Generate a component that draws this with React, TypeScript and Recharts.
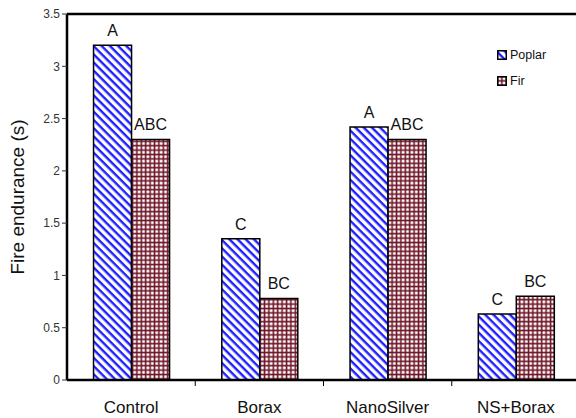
import React from "react";
import {
  BarChart,
  Bar,
  XAxis,
  YAxis,
  LabelList,
  Legend,
  ReferenceLine,
} from "recharts";

const categories = ["Control", "Borax", "NanoSilver", "NS+Borax"];
const poplar = [3.2, 1.35, 2.42, 0.63];
const fir = [2.3, 0.78, 2.3, 0.8];
const poplarGroups = ["A", "C", "A", "C"];
const firGroups = ["ABC", "BC", "ABC", "BC"];
const yTicks = [0, 0.5, 1, 1.5, 2, 2.5, 3, 3.5];

const data = categories.map((name, i) => ({
  name,
  poplar: poplar[i],
  fir: fir[i],
  poplarGroup: poplarGroups[i],
  firGroup: firGroups[i],
}));

const font = "'Liberation Sans', Arial, sans-serif";

function Patterns() {
  return (
    <defs>
      <pattern
        id="stripes"
        width="5.8"
        height="5.8"
        patternUnits="userSpaceOnUse"
        patternTransform="rotate(45)"
      >
        <rect width="5.8" height="5.8" fill="#fff" />
        <rect width="5.8" height="2.4" fill="#1f1fff" />
      </pattern>
      <pattern id="grid" width="4.4" height="4.4" patternUnits="userSpaceOnUse">
        <rect width="4.4" height="4.4" fill="#6e1426" />
        <rect x="1.3" y="1.3" width="2.8" height="2.8" fill="#fff" />
      </pattern>
    </defs>
  );
}

// category label at band centre, tick mark on the band boundary to its right
function CategoryTick(props: any) {
  const { x, y, payload, index } = props;
  const half = payload.offset || 0;
  return (
    <g>
      {index < categories.length - 1 && (
        <line x1={x + half} x2={x + half} y1={y - 21} y2={y - 15} stroke="#000" strokeWidth={1} />
      )}
      <text x={x} y={y} dy="0.71em" textAnchor="middle" fill="#111" fontSize={17} fontFamily={font}>
        {payload.value}
      </text>
    </g>
  );
}

function LegendBox() {
  const items = [
    { label: "Poplar", fill: "url(#stripes)" },
    { label: "Fir", fill: "url(#grid)" },
  ];
  return (
    <div style={{ fontFamily: font, fontSize: 12.5, color: "#111" }}>
      {items.map((it) => (
        <div key={it.label} style={{ display: "flex", alignItems: "center", height: 26 }}>
          <svg width={10} height={10} style={{ marginRight: 3 }}>
            <rect x={0.75} y={0.75} width={8.5} height={8.5} fill={it.fill} stroke="#000" strokeWidth={1.5} />
          </svg>
          <span>{it.label}</span>
        </div>
      ))}
    </div>
  );
}

export default function App() {
  return (
    <div style={{ position: "absolute", left: 0, top: 0, width: 576, height: 418, overflow: "hidden", background: "#fff" }}>
      <BarChart
        width={580}
        height={418}
        data={data}
        margin={{ top: 14, right: 0, bottom: 0, left: 0 }}
        barCategoryGap="20.7%"
        barGap={0}
      >
        <Patterns />
        <XAxis
          dataKey="name"
          height={38}
          axisLine={{ stroke: "#000", strokeWidth: 2.5 }}
          tickLine={false}
          tickSize={0}
          tickMargin={21}
          tick={<CategoryTick />}
        />
        <YAxis
          width={67}
          domain={[0, 3.5]}
          ticks={yTicks}
          axisLine={{ stroke: "#000", strokeWidth: 2.5 }}
          tickLine={{ stroke: "#333", strokeWidth: 1 }}
          tickSize={5}
          tick={{ fill: "#333", fontSize: 12, fontFamily: font }}
          label={{
            value: "Fire endurance (s)",
            angle: -90,
            position: "insideLeft",
            offset: 12,
            dx: 5,
            style: { textAnchor: "middle", fill: "#111", fontSize: 19, fontFamily: font },
          }}
        />
        <ReferenceLine y={3.5} stroke="#000" strokeWidth={2.5} />
        <Legend
          verticalAlign="middle"
          align="center"
          layout="vertical"
          wrapperStyle={{ top: 42, left: 497, width: 75 }}
          content={() => <LegendBox />}
        />
        <Bar dataKey="poplar" name="Poplar" fill="url(#stripes)" stroke="#000" strokeWidth={1.5} isAnimationActive={false}>
          <LabelList dataKey="poplarGroup" position="top" offset={9} style={{ fill: "#111", fontSize: 16, fontFamily: font }} />
        </Bar>
        <Bar dataKey="fir" name="Fir" fill="url(#grid)" stroke="#000" strokeWidth={1.5} isAnimationActive={false}>
          <LabelList dataKey="firGroup" position="top" offset={9} style={{ fill: "#111", fontSize: 16, fontFamily: font }} />
        </Bar>
      </BarChart>
    </div>
  );
}
